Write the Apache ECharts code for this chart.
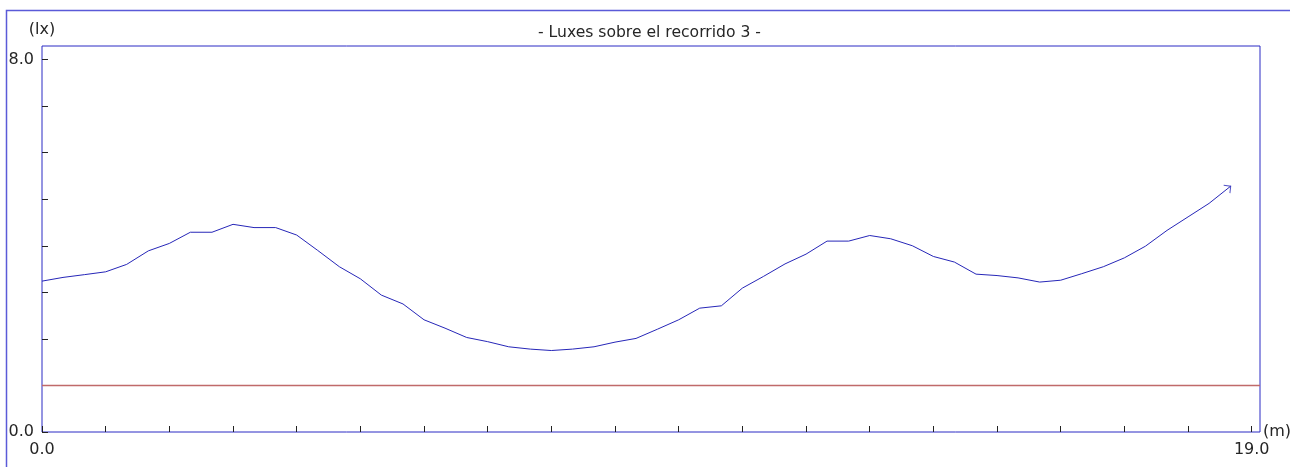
<!DOCTYPE html>
<html>
<head>
<meta charset="utf-8">
<script src="https://cdn.jsdelivr.net/npm/echarts@6/dist/echarts.min.js"></script>
<style>
  html, body { margin: 0; padding: 0; background: #ffffff; }
  #chart { width: 1290px; height: 467px; }
</style>
</head>
<body>
<div id="chart"></div>
<script>
// Distance along the path (m)
const distance = [
  0, 0.33, 0.67, 1, 1.33, 1.67, 2, 2.33, 2.67, 3, 3.33, 3.67, 4, 4.33, 4.67,
  5, 5.33, 5.67, 6, 6.33, 6.67, 7, 7.33, 7.67, 8, 8.33, 8.67, 9, 9.33, 9.67,
  10, 10.33, 10.67, 11, 11.33, 11.67, 12, 12.33, 12.67, 13, 13.33, 13.67,
  14, 14.33, 14.67, 15, 15.33, 15.67, 16, 16.33, 16.67, 17, 17.33, 17.67,
  18, 18.33, 18.67
];
// Illuminance measured along the path (lx)
const lux = [
  3.24, 3.32, 3.38, 3.44, 3.60, 3.89, 4.05, 4.29, 4.29, 4.46, 4.39, 4.39, 4.23, 3.90, 3.55,
  3.29, 2.94, 2.75, 2.41, 2.23, 2.03, 1.94, 1.83, 1.78, 1.75, 1.78, 1.83, 1.93, 2.01, 2.21,
  2.41, 2.66, 2.71, 3.09, 3.34, 3.61, 3.82, 4.10, 4.10, 4.22, 4.15, 4.00, 3.77, 3.65, 3.39,
  3.36, 3.31, 3.22, 3.26, 3.40, 3.55, 3.74, 3.99, 4.33, 4.62, 4.91, 5.28
];
// Minimum required level (lx)
const threshold = 1.0;
// Axis ticks and labelled values
const xTicks = [0, 1, 2, 3, 4, 5, 6, 7, 8, 9, 10, 11, 12, 13, 14, 15, 16, 17, 18, 19];
const yTicks = [0, 1, 2, 3, 4, 5, 6, 7, 8];
const xLabels = [0, 19];
const yLabels = [0, 8];

const titleText = '- Luxes sobre el recorrido 3 -';
const FONT = 'DejaVu Sans, Verdana, sans-serif';
const TEXT = '#262626';
const LINE_BLUE = '#2626b8';

const points = distance.map((d, i) => [d, lux[i]]);
const lastPoint = points[points.length - 1];

const chart = echarts.init(document.getElementById('chart'), null, { renderer: 'canvas' });

const option = {
  animation: false,
  backgroundColor: '#ffffff',
  title: {
    text: titleText,
    left: 533,
    top: 20,
    textStyle: { fontFamily: FONT, fontSize: 15.6, fontWeight: 'normal', color: TEXT }
  },
  grid: {
    left: 42, right: 30, top: 46, bottom: 35,
    outerBoundsMode: 'none',
    containLabel: false,
    show: true,
    borderColor: '#2a2ac4',
    borderWidth: 1,
    backgroundColor: 'transparent'
  },
  graphic: [{
    type: 'rect',
    silent: true,
    shape: { x: 6.5, y: 10.5, width: 1400, height: 600 },
    style: { fill: 'none', stroke: '#5a5ad8', lineWidth: 1.5 },
    z: -1
  }],
  xAxis: {
    type: 'value',
    min: 0,
    max: 19.13,
    name: '(m)',
    nameLocation: 'end',
    nameGap: 3,
    nameTextStyle: { fontFamily: FONT, fontSize: 16, color: TEXT, padding: [0, 0, 8, 0] },
    axisLine: { show: false },
    splitLine: { show: false },
    axisTick: {
      show: true, inside: true, length: 6,
      customValues: xTicks,
      lineStyle: { color: '#222222', width: 1 }
    },
    axisLabel: {
      show: true,
      customValues: xLabels,
      margin: 10,
      fontFamily: FONT, fontSize: 16, color: TEXT,
      formatter: v => Number(v).toFixed(1)
    }
  },
  yAxis: {
    type: 'value',
    min: 0,
    max: 8.29,
    name: '(lx)',
    nameLocation: 'end',
    nameGap: 8,
    nameTextStyle: { fontFamily: FONT, fontSize: 16, color: TEXT, align: 'center' },
    axisLine: { show: false },
    splitLine: { show: false },
    axisTick: {
      show: true, inside: true, length: 6,
      customValues: yTicks,
      lineStyle: { color: '#222222', width: 1 }
    },
    axisLabel: {
      show: true,
      customValues: yLabels,
      margin: 8,
      fontFamily: FONT, fontSize: 16, color: TEXT,
      formatter: v => Number(v).toFixed(1)
    }
  },
  series: [
    {
      name: 'Luxes',
      type: 'line',
      data: points,
      symbol: 'none',
      smooth: false,
      lineStyle: { color: LINE_BLUE, width: 1 },
      markLine: {
        silent: true,
        symbol: ['none', 'none'],
        label: { show: false },
        lineStyle: { color: '#c06a6a', width: 1.3, type: 'solid' },
        data: [{ yAxis: threshold }]
      },
      z: 3
    },
    {
      name: 'end',
      type: 'scatter',
      silent: true,
      data: [lastPoint],
      symbol: 'path://M0,0L5,5L0,10M10,10',
      symbolSize: 10,
      symbolRotate: 40,
      itemStyle: { color: 'transparent', borderColor: LINE_BLUE, borderWidth: 1 },
      z: 4
    }
  ]
};

chart.setOption(option);

// Point the arrow head along the last segment of the curve
const a = chart.convertToPixel({ seriesIndex: 0 }, points[points.length - 2]);
const b = chart.convertToPixel({ seriesIndex: 0 }, lastPoint);
const angle = Math.atan2(a[1] - b[1], b[0] - a[0]) * 180 / Math.PI;
chart.setOption({ series: [{}, { symbolRotate: angle }] });
</script>
</body>
</html>
